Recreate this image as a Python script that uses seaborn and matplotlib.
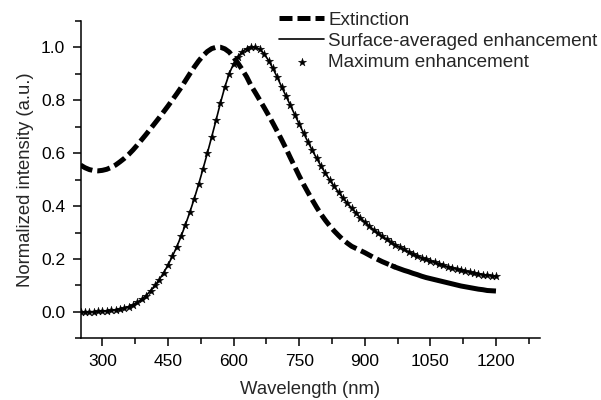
import numpy as np
import pandas as pd
import matplotlib
matplotlib.use('Agg')
import matplotlib.pyplot as plt
import seaborn as sns

wavelength = list(range(250, 1201, 10))

# extinction spectrum, normalised
extinction = [
    0.555, 0.545, 0.538, 0.534, 0.533, 0.535, 0.539, 0.546, 0.555, 0.567,
    0.580, 0.595, 0.612, 0.631, 0.651, 0.671, 0.692, 0.713, 0.734, 0.756,
    0.778, 0.801, 0.824, 0.848, 0.874, 0.900, 0.925, 0.948, 0.968, 0.984,
    0.995, 1.000, 1.000, 0.994, 0.982, 0.962, 0.940, 0.915, 0.888, 0.855,
    0.828, 0.800, 0.772, 0.743, 0.713, 0.682, 0.650, 0.617, 0.582, 0.548,
    0.514, 0.482, 0.452, 0.423, 0.395, 0.369, 0.346, 0.325, 0.306, 0.289,
    0.273, 0.260, 0.248, 0.240, 0.232, 0.224, 0.215, 0.206, 0.198, 0.190,
    0.183, 0.176, 0.169, 0.163, 0.157, 0.152, 0.146, 0.141, 0.135, 0.130,
    0.126, 0.122, 0.118, 0.114, 0.110, 0.106, 0.102, 0.098, 0.095, 0.092,
    0.089, 0.086, 0.084, 0.081, 0.080, 0.079,
]

# surface-averaged enhancement, normalised
surf_avg = [
    0.000, 0.000, 0.001, 0.001, 0.002, 0.003, 0.004, 0.006, 0.008, 0.011,
    0.015, 0.020, 0.027, 0.036, 0.048, 0.062, 0.080, 0.100, 0.122, 0.148,
    0.177, 0.210, 0.246, 0.286, 0.330, 0.377, 0.428, 0.482, 0.540, 0.600,
    0.662, 0.725, 0.790, 0.850, 0.900, 0.938, 0.964, 0.984, 0.995, 1.000,
    1.000, 0.992, 0.975, 0.950, 0.920, 0.886, 0.850, 0.815, 0.780, 0.745,
    0.710, 0.676, 0.642, 0.610, 0.580, 0.551, 0.524, 0.498, 0.474, 0.452,
    0.431, 0.411, 0.392, 0.374, 0.356, 0.340, 0.325, 0.311, 0.298, 0.286,
    0.275, 0.264, 0.254, 0.245, 0.236, 0.228, 0.220, 0.212, 0.205, 0.199,
    0.193, 0.187, 0.182, 0.176, 0.171, 0.167, 0.162, 0.158, 0.154, 0.151,
    0.147, 0.144, 0.141, 0.139, 0.137, 0.135,
]

# maximum enhancement, normalised (coincides with the surface average)
max_enh = list(surf_avg)

df = pd.DataFrame({'wl': wavelength, 'ext': extinction,
                   'avg': surf_avg, 'max': max_enh})

sns.set_style('ticks')
plt.rcParams['font.family'] = ['Liberation Sans', 'DejaVu Sans']

fig = plt.figure(figsize=(6.01, 4.0), dpi=100)
ax = fig.add_axes([0.134, 0.154, 0.764, 0.794])

# extinction: heavy dashes, the dense tail looks solid
head = df[df['wl'] <= 970]
tail = df[df['wl'] >= 960]
sns.lineplot(data=head, x='wl', y='ext', ax=ax, color='black', lw=3.6,
             linestyle=(0, (2.6, 1.0)), label='Extinction')
sns.lineplot(data=tail, x='wl', y='ext', ax=ax, color='black', lw=3.6,
             solid_capstyle='butt')
sns.lineplot(data=df, x='wl', y='avg', ax=ax, color='black', lw=1.2,
             label='Surface-averaged enhancement')
sns.scatterplot(data=df, x='wl', y='max', ax=ax, color='black', marker='*',
                s=38, linewidth=0.3, edgecolor='black', zorder=3,
                label='Maximum enhancement')

ax.set_xlim(250, 1300)
ax.set_ylim(-0.1, 1.1)
ax.set_xticks([300, 450, 600, 750, 900, 1050, 1200])
ax.set_xticks(np.arange(375, 1300, 150), minor=True)
ax.set_yticks([0.0, 0.2, 0.4, 0.6, 0.8, 1.0])
ax.set_yticks([-0.1, 0.1, 0.3, 0.5, 0.7, 0.9, 1.1], minor=True)
ax.set_yticklabels(['0.0', '0.2', '0.4', '0.6', '0.8', '1.0'])

ax.tick_params(axis='both', which='major', length=6, width=1.1,
               labelsize=12.5, color='black', labelcolor='black', pad=5)
ax.tick_params(axis='both', which='minor', length=4, width=1.1, color='black')
for side in ['left', 'bottom']:
    ax.spines[side].set_linewidth(1.1)
    ax.spines[side].set_color('black')
sns.despine(ax=ax)

ax.set_xlabel('Wavelength (nm)', fontsize=13.3, labelpad=9)
ax.set_ylabel('Normalized intensity (a.u.)', fontsize=13.3, labelpad=5)

handles, labels = ax.get_legend_handles_labels()
ax.get_legend().remove()
fig.legend(handles, labels, loc='upper right', bbox_to_anchor=(1.013, 1.0),
           frameon=False, fontsize=13.6, handlelength=2.4, handletextpad=0.2,
           labelspacing=0.22, borderaxespad=0.2)

fig.savefig('out.png', dpi=100)
